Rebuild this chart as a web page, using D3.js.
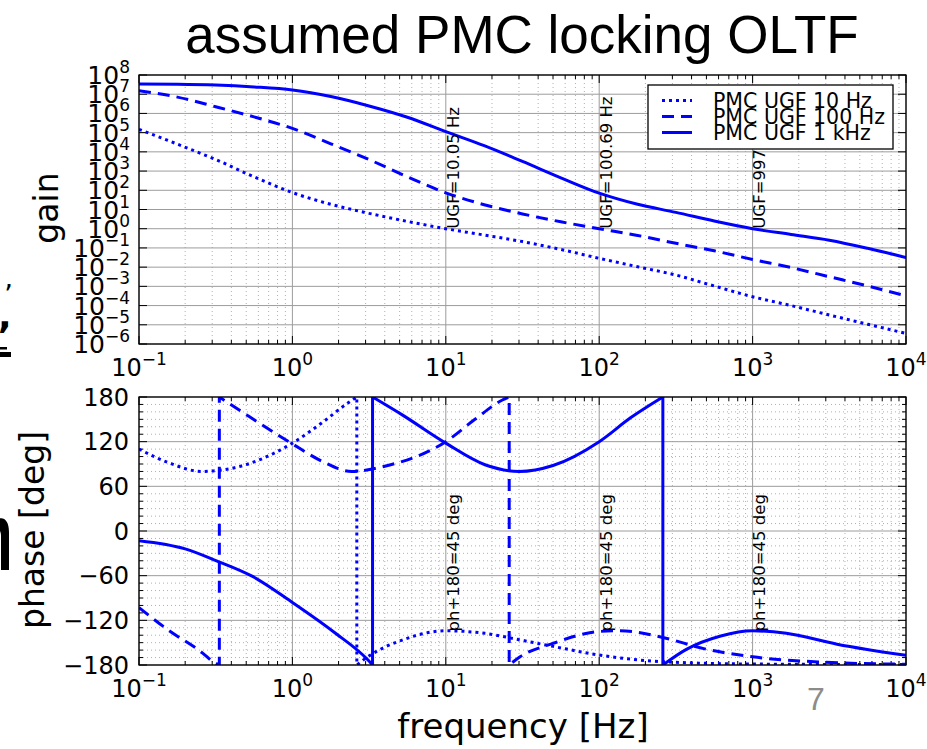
<!DOCTYPE html>
<html>
<head>
<meta charset="utf-8">
<script src="https://cdn.jsdelivr.net/npm/d3@7"></script>
<style>
  body { margin: 0; background: #fff; }
  svg { display: block; }
  text { font-family: "DejaVu Sans", sans-serif; fill: #000; }
</style>
</head>
<body>
<svg id="chart" width="927" height="749"></svg>
<script>
// ---- data ----
const seriesNames = ["PMC UGF 10 Hz", "PMC UGF 100 Hz", "PMC UGF 1 kHz"];

// gain in decades (log10 of the magnitude), sampled every quarter decade
const gainFreqs = [0.1, 0.178, 0.316, 0.562, 1, 1.78, 3.16, 5.62, 10, 17.8, 31.6, 56.2,
                   100, 178, 316, 562, 1000, 1780, 3162, 5620, 10000];
const gainDec10  = [5.17, 4.4, 3.6, 2.7, 1.88, 1.27, 0.80, 0.38, 0, -0.33, -0.67, -1.08,
                    -1.54, -1.98, -2.41, -2.98, -3.54, -4.0, -4.49, -4.97, -5.45];
const gainDec100 = [7.18, 6.85, 6.35, 5.82, 5.22, 4.42, 3.6, 2.7, 1.87, 1.25, 0.77, 0.36,
                    0, -0.35, -0.76, -1.15, -1.6, -2.02, -2.5, -2.98, -3.5];
const gainDec1k  = [7.53, 7.52, 7.48, 7.38, 7.22, 6.88, 6.39, 5.8, 5.05, 4.32, 3.5, 2.65,
                    1.85, 1.27, 0.85, 0.4, 0, -0.3, -0.6, -1.02, -1.5];

// phase (deg); a repeated frequency marks the wrap between -180 and +180
const phaseFreqs10  = [0.1, 0.155, 0.256, 0.42, 1, 1.55, 2.3, 2.63, 2.63, 3.1, 5.2, 10, 18, 30, 50, 100, 260, 1000, 10000];
const phase10       = [110, 92, 80, 85, 118, 145, 172, 180, -180, -169, -146.5, -134, -137.5, -146, -155, -166.6, -175.6, -178.7, -179.5];
const phaseFreqs100 = [0.1, 0.155, 0.26, 0.306, 0.334, 0.334, 0.52, 1, 1.55, 2.44, 4, 10, 15.5, 23.4, 25.9, 25.9, 30.5, 50, 100, 137, 260, 480, 1000, 2750, 10000];
const phase100      = [-103, -133, -164, -176, -180, 180, 154, 117, 94, 80, 87, 120, 150, 176, 180, -180, -169, -151, -135, -134, -143, -158, -169, -176, -179];
const phaseFreqs1k  = [0.1, 0.2, 0.32, 0.55, 1, 1.9, 3.1, 3.33, 3.33, 5.2, 10, 18, 30, 50, 100, 160, 260, 260, 370, 620, 1000, 1660, 3550, 10000];
const phase1k       = [-13, -24, -40, -61, -96, -137, -173, -180, 180, 156, 118, 89, 80, 88, 120, 152, 180, -180, -159, -141, -134, -137.5, -152, -167];

const ugfFreqs = [10.05, 100.69, 997.24];
const marginPhase = -135;

const gainExps = d3.range(-6, 9);           // 10^-6 .. 10^8
const phaseTicks = [-180, -120, -60, 0, 60, 120, 180];
const freqExps = [-1, 0, 1, 2, 3, 4];

// ---- layout ----
const svg = d3.select("#chart");
const xL = 139, xR = 906;
const p1 = { top: 75, bottom: 344 }, p2 = { top: 397, bottom: 665 };
const blue = "#0000ff";
const dashes = ["3,4", "12,7", null];

const x = d3.scaleLog().domain([0.1, 1e4]).range([xL, xR]);
const yG = d3.scaleLog().domain([1e-6, 1e8]).range([p1.bottom, p1.top]);
const yP = d3.scaleLinear().domain([-180, 180]).range([p2.bottom, p2.top]);

const majorX = freqExps.map(e => Math.pow(10, e));
const minorX = [];
for (let e = -1; e < 4; e++) for (let k = 2; k < 10; k++) minorX.push(k * Math.pow(10, e));

const minus = s => String(s).replace("-", "\u2212");

function supText(sel, base, exp) {
  sel.append("tspan").text(base);
  sel.append("tspan").attr("dy", -11).style("font-size", "17px").text(minus(exp));
}

// grid + ticks for one panel
function panel(p, y, yMajor, yMinor, id) {
  const g = svg.append("g");
  g.selectAll(".vmin").data(minorX).join("line")
    .attr("x1", d => x(d)).attr("x2", d => x(d)).attr("y1", p.top).attr("y2", p.bottom)
    .attr("stroke", "#b0b0b0").attr("stroke-dasharray", "1,3");
  g.selectAll(".hmin").data(yMinor).join("line")
    .attr("x1", xL).attr("x2", xR).attr("y1", d => y(d)).attr("y2", d => y(d))
    .attr("stroke", "#b0b0b0").attr("stroke-dasharray", "1,3");
  g.selectAll(".vmaj").data(majorX).join("line")
    .attr("x1", d => x(d)).attr("x2", d => x(d)).attr("y1", p.top).attr("y2", p.bottom)
    .attr("stroke", "#9c9c9c");
  g.selectAll(".hmaj").data(yMajor).join("line")
    .attr("x1", xL).attr("x2", xR).attr("y1", d => y(d)).attr("y2", d => y(d))
    .attr("stroke", "#9c9c9c");

  svg.append("clipPath").attr("id", id).append("rect")
    .attr("x", xL).attr("y", p.top).attr("width", xR - xL).attr("height", p.bottom - p.top);

  // ticks pointing inside, on all four sides
  const t = svg.append("g").attr("stroke", "#000");
  [[majorX, 8], [minorX, 4]].forEach(([vals, len]) => {
    vals.forEach(v => {
      t.append("line").attr("x1", x(v)).attr("x2", x(v)).attr("y1", p.bottom).attr("y2", p.bottom - len);
      t.append("line").attr("x1", x(v)).attr("x2", x(v)).attr("y1", p.top).attr("y2", p.top + len);
    });
  });
  [[yMajor, 8], [yMinor, 4]].forEach(([vals, len]) => {
    vals.forEach(v => {
      t.append("line").attr("x1", xL).attr("x2", xL + len).attr("y1", y(v)).attr("y2", y(v));
      t.append("line").attr("x1", xR).attr("x2", xR - len).attr("y1", y(v)).attr("y2", y(v));
    });
  });

  // x tick labels
  freqExps.forEach(e => {
    const tx = svg.append("text").attr("x", x(Math.pow(10, e))).attr("y", p.bottom + 32)
      .attr("text-anchor", "middle").style("font-size", "24px");
    supText(tx, "10", e);
  });
}

panel(p1, yG, gainExps.map(e => Math.pow(10, e)), [], "clipG");
panel(p2, yP, phaseTicks, d3.range(-170, 180, 10).filter(v => v % 60 !== 0), "clipP");

// y tick labels
gainExps.forEach(e => {
  const ty = svg.append("text").attr("x", 130).attr("y", yG(Math.pow(10, e)) + 9)
    .attr("text-anchor", "end").style("font-size", "25px");
  supText(ty, "10", e);
});
phaseTicks.forEach(v => {
  svg.append("text").attr("x", 129).attr("y", yP(v) + 8.5)
    .attr("text-anchor", "end").style("font-size", "24px").text(minus(v));
});

// ---- curves ----
const lineGen = d3.line().curve(d3.curveMonotoneX);
function wrapPath(fs, vs, y) {
  const segs = [[]];
  fs.forEach((f, i) => {
    if (i > 0 && f === fs[i - 1]) segs.push([]);
    segs[segs.length - 1].push([x(f), y(vs[i])]);
  });
  return segs.map((s, i) => { const d = lineGen(s); return i ? "L" + d.slice(1) : d; }).join("");
}

const gainSets = [gainDec10, gainDec100, gainDec1k];
const phaseSets = [[phaseFreqs10, phase10], [phaseFreqs100, phase100], [phaseFreqs1k, phase1k]];

const gl = svg.append("g").attr("clip-path", "url(#clipG)");
gainSets.forEach((dec, i) => {
  gl.append("path").attr("d", wrapPath(gainFreqs, dec.map(v => Math.pow(10, v)), yG))
    .attr("fill", "none").attr("stroke", blue).attr("stroke-width", 3)
    .attr("stroke-dasharray", dashes[i]);
});
const pl = svg.append("g").attr("clip-path", "url(#clipP)");
phaseSets.forEach(([fs, vals], i) => {
  pl.append("path").attr("d", wrapPath(fs, vals, yP))
    .attr("fill", "none").attr("stroke", blue).attr("stroke-width", 3)
    .attr("stroke-dasharray", dashes[i]);
});

// frames
[p1, p2].forEach(p => {
  svg.append("rect").attr("x", xL).attr("y", p.top).attr("width", xR - xL).attr("height", p.bottom - p.top)
    .attr("fill", "none").attr("stroke", "#000").attr("stroke-width", 1.3);
});

// ---- annotations ----
ugfFreqs.forEach(f => {
  svg.append("text").attr("transform", `translate(${x(f) + 12.5},${yG(1)}) rotate(-90)`)
    .style("font-size", "16.5px").text(`UGF=${f} Hz`);
  svg.append("text").attr("transform", `translate(${x(f) + 12.5},${yP(marginPhase)}) rotate(-90)`)
    .style("font-size", "16.5px").text("ph+180=45 deg");
});

// ---- legend ----
const lg = svg.append("g");
lg.append("rect").attr("x", 648).attr("y", 85).attr("width", 245).attr("height", 64)
  .attr("fill", "#fff").attr("stroke", "#000").attr("stroke-width", 1.3);
seriesNames.forEach((name, i) => {
  const ry = 100.5 + i * 16;
  lg.append("line").attr("x1", 662).attr("x2", 692).attr("y1", ry).attr("y2", ry)
    .attr("stroke", blue).attr("stroke-width", 3).attr("stroke-dasharray", dashes[i]);
  lg.append("text").attr("x", 713).attr("y", ry + 7.5).style("font-size", "20.5px").text(name);
});

// ---- axis labels and slide text ----
svg.append("text").attr("transform", "translate(58,208) rotate(-90)").attr("text-anchor", "middle")
  .style("font-size", "33px").text("gain");
svg.append("text").attr("transform", "translate(44,530) rotate(-90)").attr("text-anchor", "middle")
  .style("font-size", "33px").text("phase [deg]");
svg.append("text").attr("x", 523).attr("y", 738).attr("text-anchor", "middle")
  .style("font-size", "34px").text("frequency [Hz]");

svg.append("text").attr("x", 522).attr("y", 53).attr("text-anchor", "middle")
  .style("font-family", "'Liberation Sans', Arial, sans-serif").style("font-size", "53px")
  .text("assumed PMC locking OLTF");
svg.append("text").attr("x", 816).attr("y", 710).attr("text-anchor", "middle")
  .style("font-family", "'Liberation Sans', Arial, sans-serif").style("font-size", "32px")
  .style("fill", "#8c8c8c").text("7");

// fragments of neighbouring slide text at the left edge
const frag = svg.append("g").style("font-family", "'Liberation Sans', Arial, sans-serif");
frag.append("text").attr("x", 4).attr("y", 305).style("font-size", "28px").text("\u2019");
frag.append("text").attr("x", -2).attr("y", 328).style("font-size", "36px").style("font-weight", "bold").text(",");
frag.append("path").attr("d", "M0,347h7v2.5h-7Z M0,352h11v5h-11Z").attr("fill", "#000");
frag.append("path")
  .attr("d", "M-12,530 C-4,514 9,514 9,532 L9,570 L1,570 L1,536 C1,527 -5,526 -12,536 Z")
  .attr("fill", "#000");
</script>
</body>
</html>
